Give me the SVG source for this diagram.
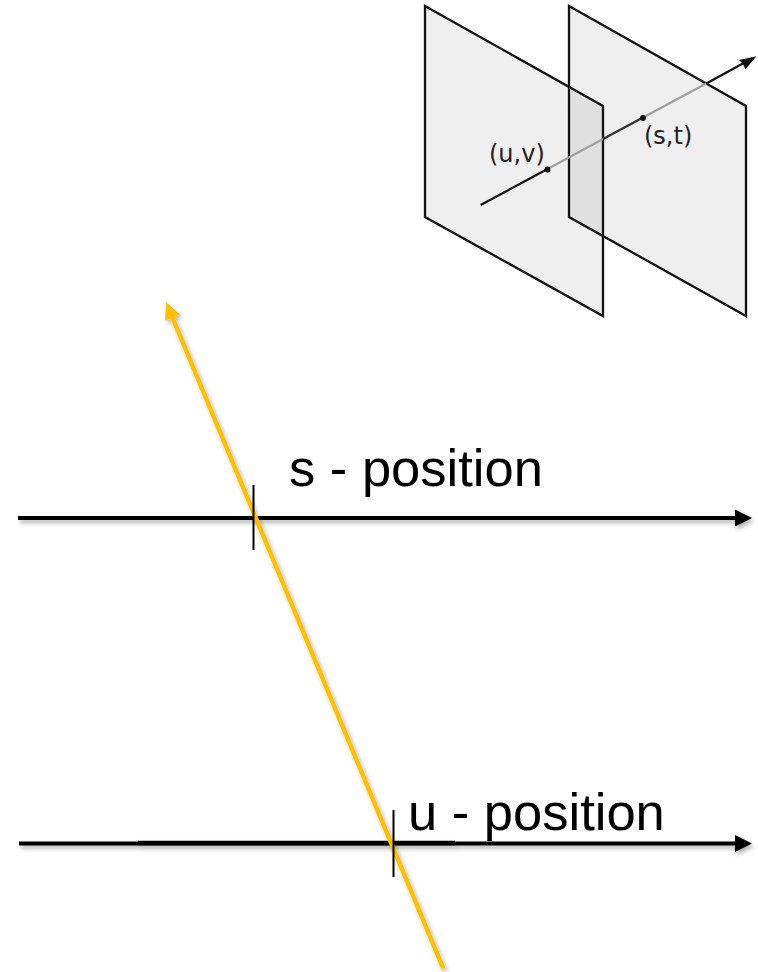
<svg xmlns="http://www.w3.org/2000/svg" width="758" height="972" viewBox="0 0 758 972">
  <defs>
    <style>
      .panel { fill: #efefef; stroke: none; }
      .edge { fill: none; stroke: #111; stroke-width: 2.3; stroke-linejoin: miter; }
      .small { font-family: "DejaVu Sans", Verdana, sans-serif; font-size: 24px; fill: #222; }
      .big { font-family: "Liberation Sans", Arial, sans-serif; font-size: 52.5px; fill: #000; }
      .axis { stroke: #000; stroke-width: 4; fill: none; }
      .tick { stroke: #000; stroke-width: 2; }
      .ray { stroke: #FFC000; stroke-width: 4.5; fill: none; }
    </style>
    <filter id="shadow" filterUnits="userSpaceOnUse" x="0" y="0" width="758" height="972">
      <feDropShadow dx="2" dy="3" stdDeviation="2" flood-color="#000" flood-opacity="0.3"/>
    </filter>
  </defs>

  <g id="light-field-planes">
    <polygon class="panel" points="425,6 603,106 603,316 425,217"/>
    <polygon class="panel" points="569,6 746,106 746,316 569,217"/>
    <polygon points="569,87 603,106 603,236 569,217" fill="#e0e0e0"/>
    <polygon class="edge" points="425,6 603,106 603,316 425,217"/>
    <polygon class="edge" points="569,6 746,106 746,316 569,217"/>
    <g id="plane-ray" stroke-width="2.3" fill="none" stroke-linecap="butt">
      <line x1="480.7" y1="205" x2="547.5" y2="169" stroke="#111"/>
      <line x1="547.5" y1="169" x2="603" y2="139.1" stroke="#a0a0a0"/>
      <line x1="603" y1="139.1" x2="643" y2="117.6" stroke="#333"/>
      <line x1="643" y1="117.6" x2="706.3" y2="83.5" stroke="#a0a0a0"/>
      <line x1="706.3" y1="83.5" x2="752" y2="58.5" stroke="#111"/>
      <path d="M756.5,56.2 L739,60 L743,64 L745.5,69.2 Z" fill="#111" stroke="none"/>
    </g>
    <circle cx="547.5" cy="169.5" r="2.9" fill="#111"/>
    <circle cx="643" cy="118" r="2.9" fill="#111"/>
    <text class="small" x="489" y="162">(u,v)</text>
    <text class="small" x="644" y="144">(s,t)</text>
  </g>

  <g id="connectors">
    <g id="s-axis" filter="url(#shadow)">
      <line class="axis" x1="18" y1="518" x2="736" y2="518"/>
      <polygon points="752,518 735,509.5 735,526.5" fill="#000"/>
    </g>
    <g id="u-axis" filter="url(#shadow)">
      <line class="axis" x1="19" y1="843.5" x2="736" y2="843.5" stroke-width="3.5"/>
      <line x1="138" y1="843" x2="455" y2="843" stroke="#000" stroke-width="4.5"/>
      <polygon points="752,843.5 735,835 735,852" fill="#000"/>
    </g>
    <g id="light-ray" filter="url(#shadow)">
      <line class="ray" x1="443.3" y1="968.3" x2="172.5" y2="317.7"/>
      <polygon points="166,302 179.9,314.6 165.1,320.8" fill="#FFC000"/>
    </g>
  </g>

  <g id="s-position">
    <line class="tick" x1="253.5" y1="485" x2="253.5" y2="550"/>
    <text class="big" x="289" y="486">s - position</text>
  </g>
  <g id="u-position">
    <line class="tick" x1="393.5" y1="810" x2="393.5" y2="877"/>
    <text class="big" x="408" y="830">u - position</text>
  </g>
</svg>
